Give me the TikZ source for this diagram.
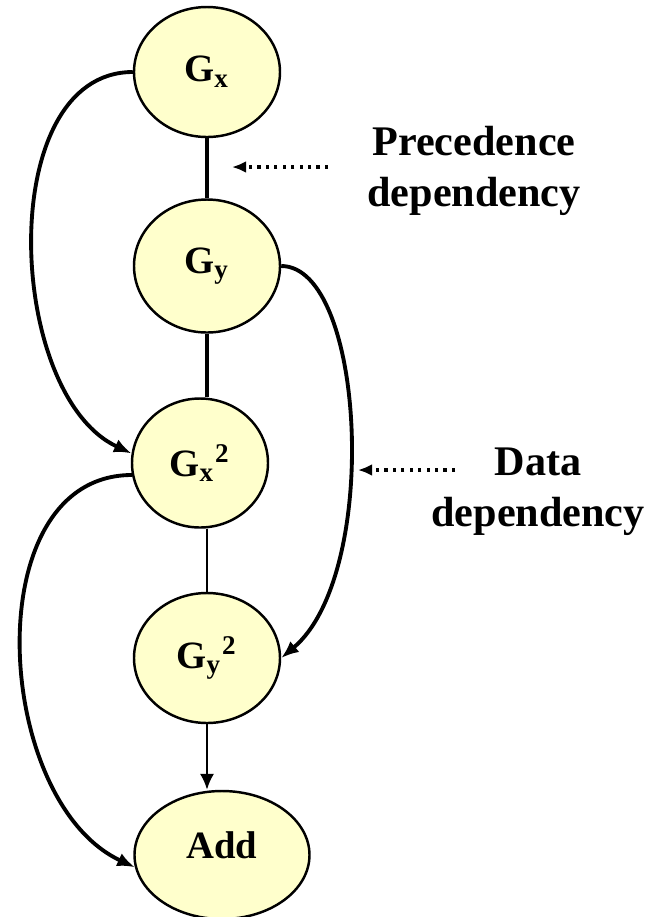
\documentclass[tikz,border=0pt]{standalone}
\usepackage{fontspec}
\setmainfont{Liberation Serif}
\usetikzlibrary{arrows.meta, shapes.geometric}

\definecolor{taskfill}{HTML}{FFFFCC}

\begin{document}
\begin{tikzpicture}[> = {Latex[length = 5pt, width = 4pt]}, every node/.style = {color = black, font = \fontsize{11}{13}\selectfont\bfseries},
	task/.style = {ellipse, draw, line width = 0.7pt, fill = taskfill, inner sep = 0pt},
	note/.style = {align = center, font = \fontsize{12}{14.6}\selectfont\bfseries},
	dep/.style = {->, line width = 1.1pt},
	hint/.style = {->, line width = 0.9pt, dash pattern = on 0.9pt off 1.5pt, > = {Latex[length = 4pt, width = 3.4pt]}}]

	% Definition

	\def\W{1.46}	% Width of a task
	\def\H{1.30}	% Height of a task

	\useasboundingbox (0, 0) rectangle (6.59, -9.17);

	% Tasks

	\node [task, minimum width = \W cm, minimum height = \H cm] (Gx) at (2.07, -0.72) {G\textsubscript{x}};
	\node [task, minimum width = \W cm, minimum height = 1.33cm] (Gy) at (2.07, -2.66) {G\textsubscript{y}};
	\node [task, minimum width = 1.36cm, minimum height = 1.29cm] (Gx2) at (2.00, -4.63) {G\textsubscript{x}\textsuperscript{2}};
	\node [task, minimum width = \W cm, minimum height = \H cm] (Gy2) at (2.07, -6.58) {G\textsubscript{y}\textsuperscript{2}};
	\node [task, minimum width = 1.75cm, minimum height = 1.28cm, text depth = 0.2cm] (Add) at (2.22, -8.55) {Add};

	% Precedence dependencies

	\draw [line width = 1pt] (Gx.south) -- (Gy.north);
	\draw [line width = 1pt] (Gy.south) -- (Gy.south |- Gx2.north);
	\draw [line width = 0.7pt] (Gy2.north |- Gx2.south) -- (Gy2.north);
	\draw [->, line width = 0.7pt, > = {Latex[length = 4.5pt, width = 4pt]}] (Gy2.south) -- (Gy2.south |- Add.north);

	% Data dependencies

	\draw [dep] (Gx.west) to [out = 180, in = 155, looseness = 0.93] (Gx2.172);
	\draw [dep] (Gy.east) to [out = 0, in = 40, out looseness = 0.55, in looseness = 0.85] (Gy2.east);
	\draw [dep] (Gx2.190) to [out = 180, in = 155, looseness = 1.02] (Add.188);

	% Labels

	\node [note] (prec) at (4.74, -1.71) {Precedence\\dependency};
	\node [note] (data) at (5.38, -4.92) {Data\\dependency};

	\coordinate (precTail) at (3.28, -1.67);
	\coordinate (precTip) at (2.32, -1.67);
	\coordinate (dataTail) at (4.55, -4.70);
	\coordinate (dataTip) at (3.58, -4.70);

	\draw [hint] (precTail) -- (precTip);
	\draw [hint] (dataTail) -- (dataTip);

\end{tikzpicture}
\end{document}
